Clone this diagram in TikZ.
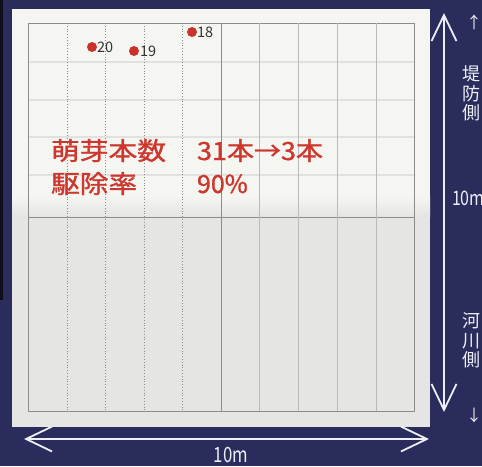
\documentclass[tikz,border=0pt]{standalone}
\usepackage{fontspec}
\setmainfont{Noto Sans CJK JP}
\newfontfamily\redfont{Noto Sans CJK JP}[FakeBold=1.2]
\usetikzlibrary{arrows.meta}
\definecolor{navy}{RGB}{42,45,92}
\definecolor{panelgray}{RGB}{229,229,227}
\definecolor{panelwhite}{RGB}{245,245,242}
\definecolor{gridgray}{RGB}{140,140,140}
\definecolor{ghostgray}{RGB}{225,225,223}
\definecolor{ptred}{RGB}{200,52,42}
\definecolor{txtred}{RGB}{205,55,45}
\definecolor{labgray}{RGB}{50,50,50}
\definecolor{arrowwhite}{RGB}{238,238,246}
\tikzset{
  gridsolid/.style={draw=gridgray, line width=0.6pt},
  gridfaint/.style={draw=gridgray!60, line width=0.5pt},
  griddot/.style={draw=gridgray, line width=0.8pt, dotted},
  ghostline/.style={draw=ghostgray, line width=1.5pt},
  ptdot/.style={circle, fill=ptred, minimum size=10pt, inner sep=0pt},
  ptlabel/.style={anchor=base west, text=labgray, font=\fontsize{14.5}{16}\selectfont},
  redtext/.style={anchor=base west, text=txtred, font=\redfont\fontsize{25}{30}\selectfont},
  sidetext/.style={text=arrowwhite, font=\fontsize{18}{19.5}\selectfont, align=left},
  dimarrow/.style={draw=arrowwhite, line width=1.8pt,
    {Straight Barb[length=26pt,width=25pt]}-{Straight Barb[length=26pt,width=25pt]}},
}
\begin{document}
\begin{tikzpicture}[x=1pt,y=-1pt, every node/.style={inner sep=0pt, outer sep=0pt}]
\useasboundingbox (0,0) rectangle (482,466);
% background
\fill[navy] (0,0) rectangle (482,466);
\fill[black!70!navy] (0,0) rectangle (3,300);
% panel
\fill[panelgray] (12,9) rectangle (430,427);
\fill[panelwhite] (12,9) rectangle (430,196);
\shade[top color=panelwhite, bottom color=panelgray] (12,196) rectangle (430,216);
% faint show-through rows
\foreach \yy in {62,100,137,175} \draw[ghostline] (28,\yy) -- (414,\yy);
% grid
\draw[gridsolid] (28,23) rectangle (414,411);
\draw[gridsolid] (28,217) -- (414,217);
\foreach \xx in {67,105,144,182} \draw[griddot] (\xx,23) -- (\xx,411);
\draw[gridsolid] (221,23) -- (221,411);
\foreach \xx in {259,298,337,376} \draw[gridfaint] (\xx,23) -- (\xx,411);
% points
\node[ptdot] (p18) at (192,32) {};
\node[ptlabel] (l18) at (197,37) {18};
\node[ptdot] (p20) at (92,47) {};
\node[ptlabel] (l20) at (97,52) {20};
\node[ptdot] (p19) at (134,51) {};
\node[ptlabel] (l19) at (140,56) {19};
% red text
\node[redtext] (t1a) at (51,160) {\scalebox{1.15}[1]{萌芽本数}};
\node[redtext] (t1b) at (197,160) {\scalebox{1.08}[1]{31本→3本}};
\node[redtext] (t2a) at (51,193) {\scalebox{1.15}[1]{駆除率}};
\node[redtext] (t2b) at (197,193) {\scalebox{1.0}[1]{90\%}};
% dimension arrows
\coordinate (vt) at (444,13);
\coordinate (vb) at (444,412);
\coordinate (hl) at (24,439);
\coordinate (hr) at (429,439);
\draw[dimarrow] (vt) -- (vb);
\draw[dimarrow] (hl) -- (hr);
% side labels
\node[sidetext, anchor=center, font=\fontsize{16}{18}\selectfont] (up) at (474,22) {↑};
\node[sidetext, anchor=north west] (tei) at (462,66) {堤\\防\\側};
\node[sidetext, anchor=west, font=\fontsize{20}{22}\selectfont] (ten) at (452,198) {\scalebox{0.8}[1]{10m}};
\node[sidetext, anchor=north west] (kasen) at (462,313) {河\\川\\側};
\node[sidetext, anchor=center, font=\fontsize{16}{18}\selectfont] (down) at (474,415) {↓};
\node[sidetext, anchor=center, font=\fontsize{21}{23}\selectfont] (bot) at (231,455) {\scalebox{0.8}[1]{10m}};
\end{tikzpicture}
\end{document}
